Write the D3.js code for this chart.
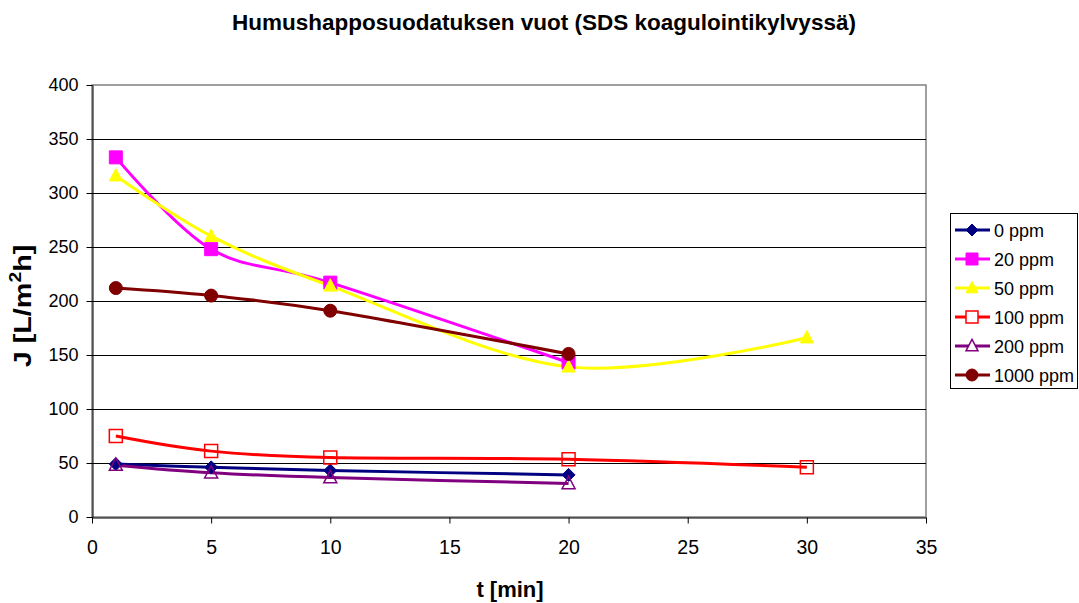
<!DOCTYPE html>
<html>
<head>
<meta charset="utf-8">
<script src="https://cdn.jsdelivr.net/npm/d3@7"></script>
<style>
  body { margin: 0; background: #fff; }
  text { font-family: "Liberation Sans", Arial, sans-serif; }
</style>
</head>
<body>
<svg id="chart" width="1079" height="603"></svg>
<script>
// data
var times = [1, 5, 10, 20, 30];
var ppm0 = [49, 46, 43, 39, null];
var ppm20 = [333, 248, 217, 143, null];
var ppm50 = [316, 260, 214, 139, 166];
var ppm100 = [75, 61, 55, 53.5, 46];
var ppm200 = [48, 41, 36.5, 31, null];
var ppm1000 = [212, 205, 191, 151, null];
var seriesNames = ["0 ppm", "20 ppm", "50 ppm", "100 ppm", "200 ppm", "1000 ppm"];
var xTicks = [0, 5, 10, 15, 20, 25, 30, 35];
var yTicks = [0, 50, 100, 150, 200, 250, 300, 350, 400];

var series = [
  {name: seriesNames[0], values: ppm0, color: "#000080", marker: "diamond", fill: true},
  {name: seriesNames[1], values: ppm20, color: "#ff00ff", marker: "square", fill: true},
  {name: seriesNames[2], values: ppm50, color: "#ffff00", marker: "triangle", fill: true},
  {name: seriesNames[3], values: ppm100, color: "#ff0000", marker: "square", fill: false},
  {name: seriesNames[4], values: ppm200, color: "#800080", marker: "triangle", fill: false},
  {name: seriesNames[5], values: ppm1000, color: "#800000", marker: "circle", fill: true}
];

var svg = d3.select("#chart");

var x = d3.scaleLinear().domain([0, 35]).range([92, 926]);
var y = d3.scaleLinear().domain([0, 400]).range([517, 85]);

// plot border
svg.append("rect")
  .attr("x", 92).attr("y", 85)
  .attr("width", 926 - 92).attr("height", 517 - 85)
  .attr("fill", "none").attr("stroke", "#808080").attr("stroke-width", 1.5);

// gridlines
svg.append("g")
  .selectAll("line")
  .data(yTicks.filter(d => d > 0 && d < 400))
  .enter().append("line")
  .attr("x1", x(0)).attr("x2", x(35))
  .attr("y1", d => Math.round(y(d)) + 0.5).attr("y2", d => Math.round(y(d)) + 0.5)
  .attr("stroke", "#000").attr("stroke-width", 1);

// axes
var xAxis = d3.axisBottom(x).tickValues(xTicks).tickSize(6).tickSizeOuter(0);
var yAxis = d3.axisLeft(y).tickValues(yTicks).tickSize(6).tickSizeOuter(0);

var gx = svg.append("g").attr("transform", "translate(0,517.5)").call(xAxis);
gx.selectAll("text").attr("font-size", 19.5).attr("y", 36.5).attr("dy", 0).attr("fill", "#000")
  .style("font-family", "'Liberation Sans', Arial, sans-serif");
gx.selectAll("line, path").attr("stroke", "#000");

var gy = svg.append("g").attr("transform", "translate(92.5,0)").call(yAxis);
gy.selectAll("text").attr("font-size", 18).attr("x", -14).attr("fill", "#000")
  .style("font-family", "'Liberation Sans', Arial, sans-serif");
gy.selectAll("line, path").attr("stroke", "#000");

// titles
svg.append("text")
  .attr("x", 544).attr("y", 30)
  .attr("text-anchor", "middle")
  .attr("font-size", 22.5).attr("font-weight", "bold")
  .text("Humushapposuodatuksen vuot (SDS koagulointikylvyssä)");

svg.append("text")
  .attr("x", 510).attr("y", 597)
  .attr("text-anchor", "middle")
  .attr("font-size", 22).attr("font-weight", "bold")
  .text("t [min]");

var yl = svg.append("text")
  .attr("transform", "translate(31,306) rotate(-90) scale(1.2,1)")
  .attr("text-anchor", "middle")
  .attr("font-size", 24).attr("font-weight", "bold");
yl.append("tspan").text("J [L/m");
yl.append("tspan").attr("font-size", 16).attr("dy", -10).text("2");
yl.append("tspan").attr("dy", 10).text("h]");

// markers
function markerPath(type, size) {
  var s = size;
  if (type === "diamond") return `M0,${-s}L${s},0L0,${s}L${-s},0Z`;
  if (type === "square") return `M${-s},${-s}H${s}V${s}H${-s}Z`;
  if (type === "triangle") return `M0,${-s * 1.1}L${s},${s * 0.8}L${-s},${s * 0.8}Z`;
  return d3.symbol().type(d3.symbolCircle).size(Math.PI * s * s)();
}

var line = d3.line()
  .defined(d => d.v != null)
  .x(d => x(d.t))
  .y(d => y(d.v))
  .curve(d3.curveCardinal.tension(0));

series.forEach(function(s) {
  var pts = times.map((t, i) => ({t: t, v: s.values[i]})).filter(d => d.v != null);
  svg.append("path")
    .datum(pts)
    .attr("d", line)
    .attr("fill", "none")
    .attr("stroke", s.color)
    .attr("stroke-width", 3);
});

series.forEach(function(s) {
  var pts = times.map((t, i) => ({t: t, v: s.values[i]})).filter(d => d.v != null);
  svg.append("g").selectAll("path")
    .data(pts)
    .enter().append("path")
    .attr("transform", d => `translate(${x(d.t)},${y(d.v)})`)
    .attr("d", markerPath(s.marker, 6.5))
    .attr("fill", s.fill ? s.color : "#fff")
    .attr("fill-opacity", s.fill ? 1 : 0)
    .attr("stroke", s.color)
    .attr("stroke-width", s.fill ? 1 : 1.5);
});

// legend
var leg = svg.append("g");
leg.append("rect")
  .attr("x", 950.5).attr("y", 213.5)
  .attr("width", 127).attr("height", 175)
  .attr("fill", "#fff").attr("stroke", "#000").attr("stroke-width", 1);

var ly = d3.scalePoint().domain(seriesNames).range([230, 375]);
series.forEach(function(s) {
  var yy = ly(s.name);
  leg.append("line")
    .attr("x1", 955).attr("x2", 990)
    .attr("y1", yy).attr("y2", yy)
    .attr("stroke", s.color).attr("stroke-width", 3);
  leg.append("path")
    .attr("transform", `translate(972,${yy})`)
    .attr("d", markerPath(s.marker, 6))
    .attr("fill", s.fill ? s.color : "#fff")
    .attr("stroke", s.color)
    .attr("stroke-width", s.fill ? 1 : 1.5);
  leg.append("text")
    .attr("x", 994).attr("y", yy + 6.5)
    .attr("font-size", 18)
    .text(s.name);
});
</script>
</body>
</html>
